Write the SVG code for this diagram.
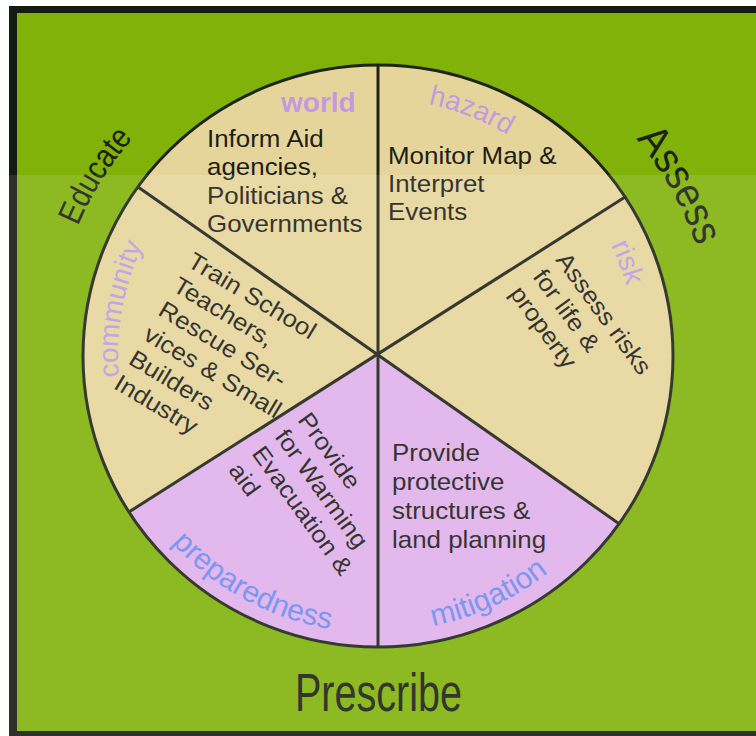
<svg xmlns="http://www.w3.org/2000/svg" width="756" height="736" viewBox="0 0 756 736">
<defs>
<style>
.body{font-family:"Liberation Sans",Arial,sans-serif;font-size:24px;fill:#1d1d18;}
.lp{font-family:"Liberation Sans",Arial,sans-serif;font-size:28px;fill:#c39ae2;}
.lb{font-family:"Liberation Sans",Arial,sans-serif;font-size:30px;fill:#6d8cf0;}
.big{font-family:"Liberation Sans",Arial,sans-serif;fill:#1c2016;}
.edge{fill:none;stroke:#1e2418;stroke-width:3;}
</style>
<path id="pAssess" d="M 636 139 A 337 337 0 0 1 715 356"/>
<path id="pEducate" d="M 78 226 A 330 330 0 0 1 265.1 45.9"/>
<path id="pHazard" d="M 428.4 104 A 257 257 0 0 1 598.8 228.5"/>
<path id="pRisk" d="M 611 245 A 258 258 0 0 1 632 401"/>
<path id="pCommunity" d="M 118.8 377 A 260 260 0 0 1 228.9 143"/>
<path id="pPrep" d="M 172 543 A 276 276 0 0 0 515.8 594.6"/>
<path id="pMitig" d="M 433 626 A 276 276 0 0 0 637 450"/>
</defs>

<rect x="0" y="0" width="756" height="736" fill="#ffffff"/>
<rect x="9" y="6" width="747" height="730" fill="#151a12"/>
<rect x="17" y="13" width="739" height="718" fill="#80b20a"/>

<g id="wheel">
<ellipse cx="378" cy="356" rx="295" ry="291" fill="#e6d59b"/>
<path d="M 377 355 L 619.1 523.7 A 295 291 0 0 1 128.9 512 Z" fill="#e0b1eb"/>
</g>

<g id="connectors" class="edge">
<line x1="378" y1="65" x2="378" y2="647"/>
<line x1="138" y1="186.9" x2="619.1" y2="523.7"/>
<line x1="625.1" y1="197.1" x2="128.9" y2="512"/>
<ellipse cx="378" cy="356" rx="295" ry="291"/>
</g>

<g id="world">
<text x="281" y="112" class="lp" font-weight="bold" font-size="27.5">world</text>
<text class="body" transform="translate(207,147) scale(1.08,1)"><tspan x="0" y="0">Inform Aid</tspan><tspan x="0" y="28.3">agencies,</tspan><tspan x="0" y="56.6">Politicians &amp;</tspan><tspan x="0" y="84.9">Governments</tspan></text>
</g>

<g id="hazard">
<text class="lp"><textPath href="#pHazard">hazard</textPath></text>
<text class="body" transform="translate(388,163.5) scale(1.08,1)"><tspan x="0" y="0">Monitor Map &amp;</tspan><tspan x="0" y="28.3">Interpret</tspan><tspan x="0" y="56.6">Events</tspan></text>
</g>

<g id="risk">
<text class="lp" font-size="27"><textPath href="#pRisk">risk</textPath></text>
<text class="body" transform="translate(555,260) rotate(54) scale(1.08,1)"><tspan x="0" y="0">Assess risks</tspan><tspan x="0" y="28.5">for life &amp;</tspan><tspan x="0" y="57">property</tspan></text>
</g>

<g id="mitigation">
<text class="lb" font-size="29"><textPath href="#pMitig">mitigation</textPath></text>
<text class="body" transform="translate(392,461) scale(1.08,1)"><tspan x="0" y="0">Provide</tspan><tspan x="0" y="29">protective</tspan><tspan x="0" y="58">structures &amp;</tspan><tspan x="0" y="87">land planning</tspan></text>
</g>

<g id="preparedness">
<text class="lb"><textPath href="#pPrep">preparedness</textPath></text>
<text class="body" transform="translate(297,420) rotate(54) scale(1.08,1)"><tspan x="0" y="0">Provide</tspan><tspan x="0" y="28.5">for Warming</tspan><tspan x="0" y="57">Evacuation &amp;</tspan><tspan x="0" y="85.5">aid</tspan></text>
</g>

<g id="community">
<text class="lp" font-size="29"><textPath href="#pCommunity">community</textPath></text>
<text class="body" transform="translate(186,265.5) rotate(31) scale(1.08,1)"><tspan x="0" y="0">Train School</tspan><tspan x="0" y="28.5">Teachers,</tspan><tspan x="0" y="57">Rescue Ser-</tspan><tspan x="0" y="85.5">vices &amp; Small</tspan><tspan x="0" y="114">Builders</tspan><tspan x="0" y="142.5">Industry</tspan></text>
</g>

<g id="educate">
<text class="big" font-size="33" fill="#26321a"><textPath href="#pEducate" textLength="104" lengthAdjust="spacingAndGlyphs">Educate</textPath></text>
</g>

<g id="assess">
<text class="big" font-size="42"><textPath href="#pAssess" textLength="124" lengthAdjust="spacingAndGlyphs">Assess</textPath></text>
</g>

<g id="prescribe">
<text class="big" x="295" y="711" font-size="53" textLength="167" lengthAdjust="spacingAndGlyphs">Prescribe</text>
</g>

<rect x="0" y="175" width="756" height="561" fill="#ffffff" opacity="0.1"/>
</svg>
